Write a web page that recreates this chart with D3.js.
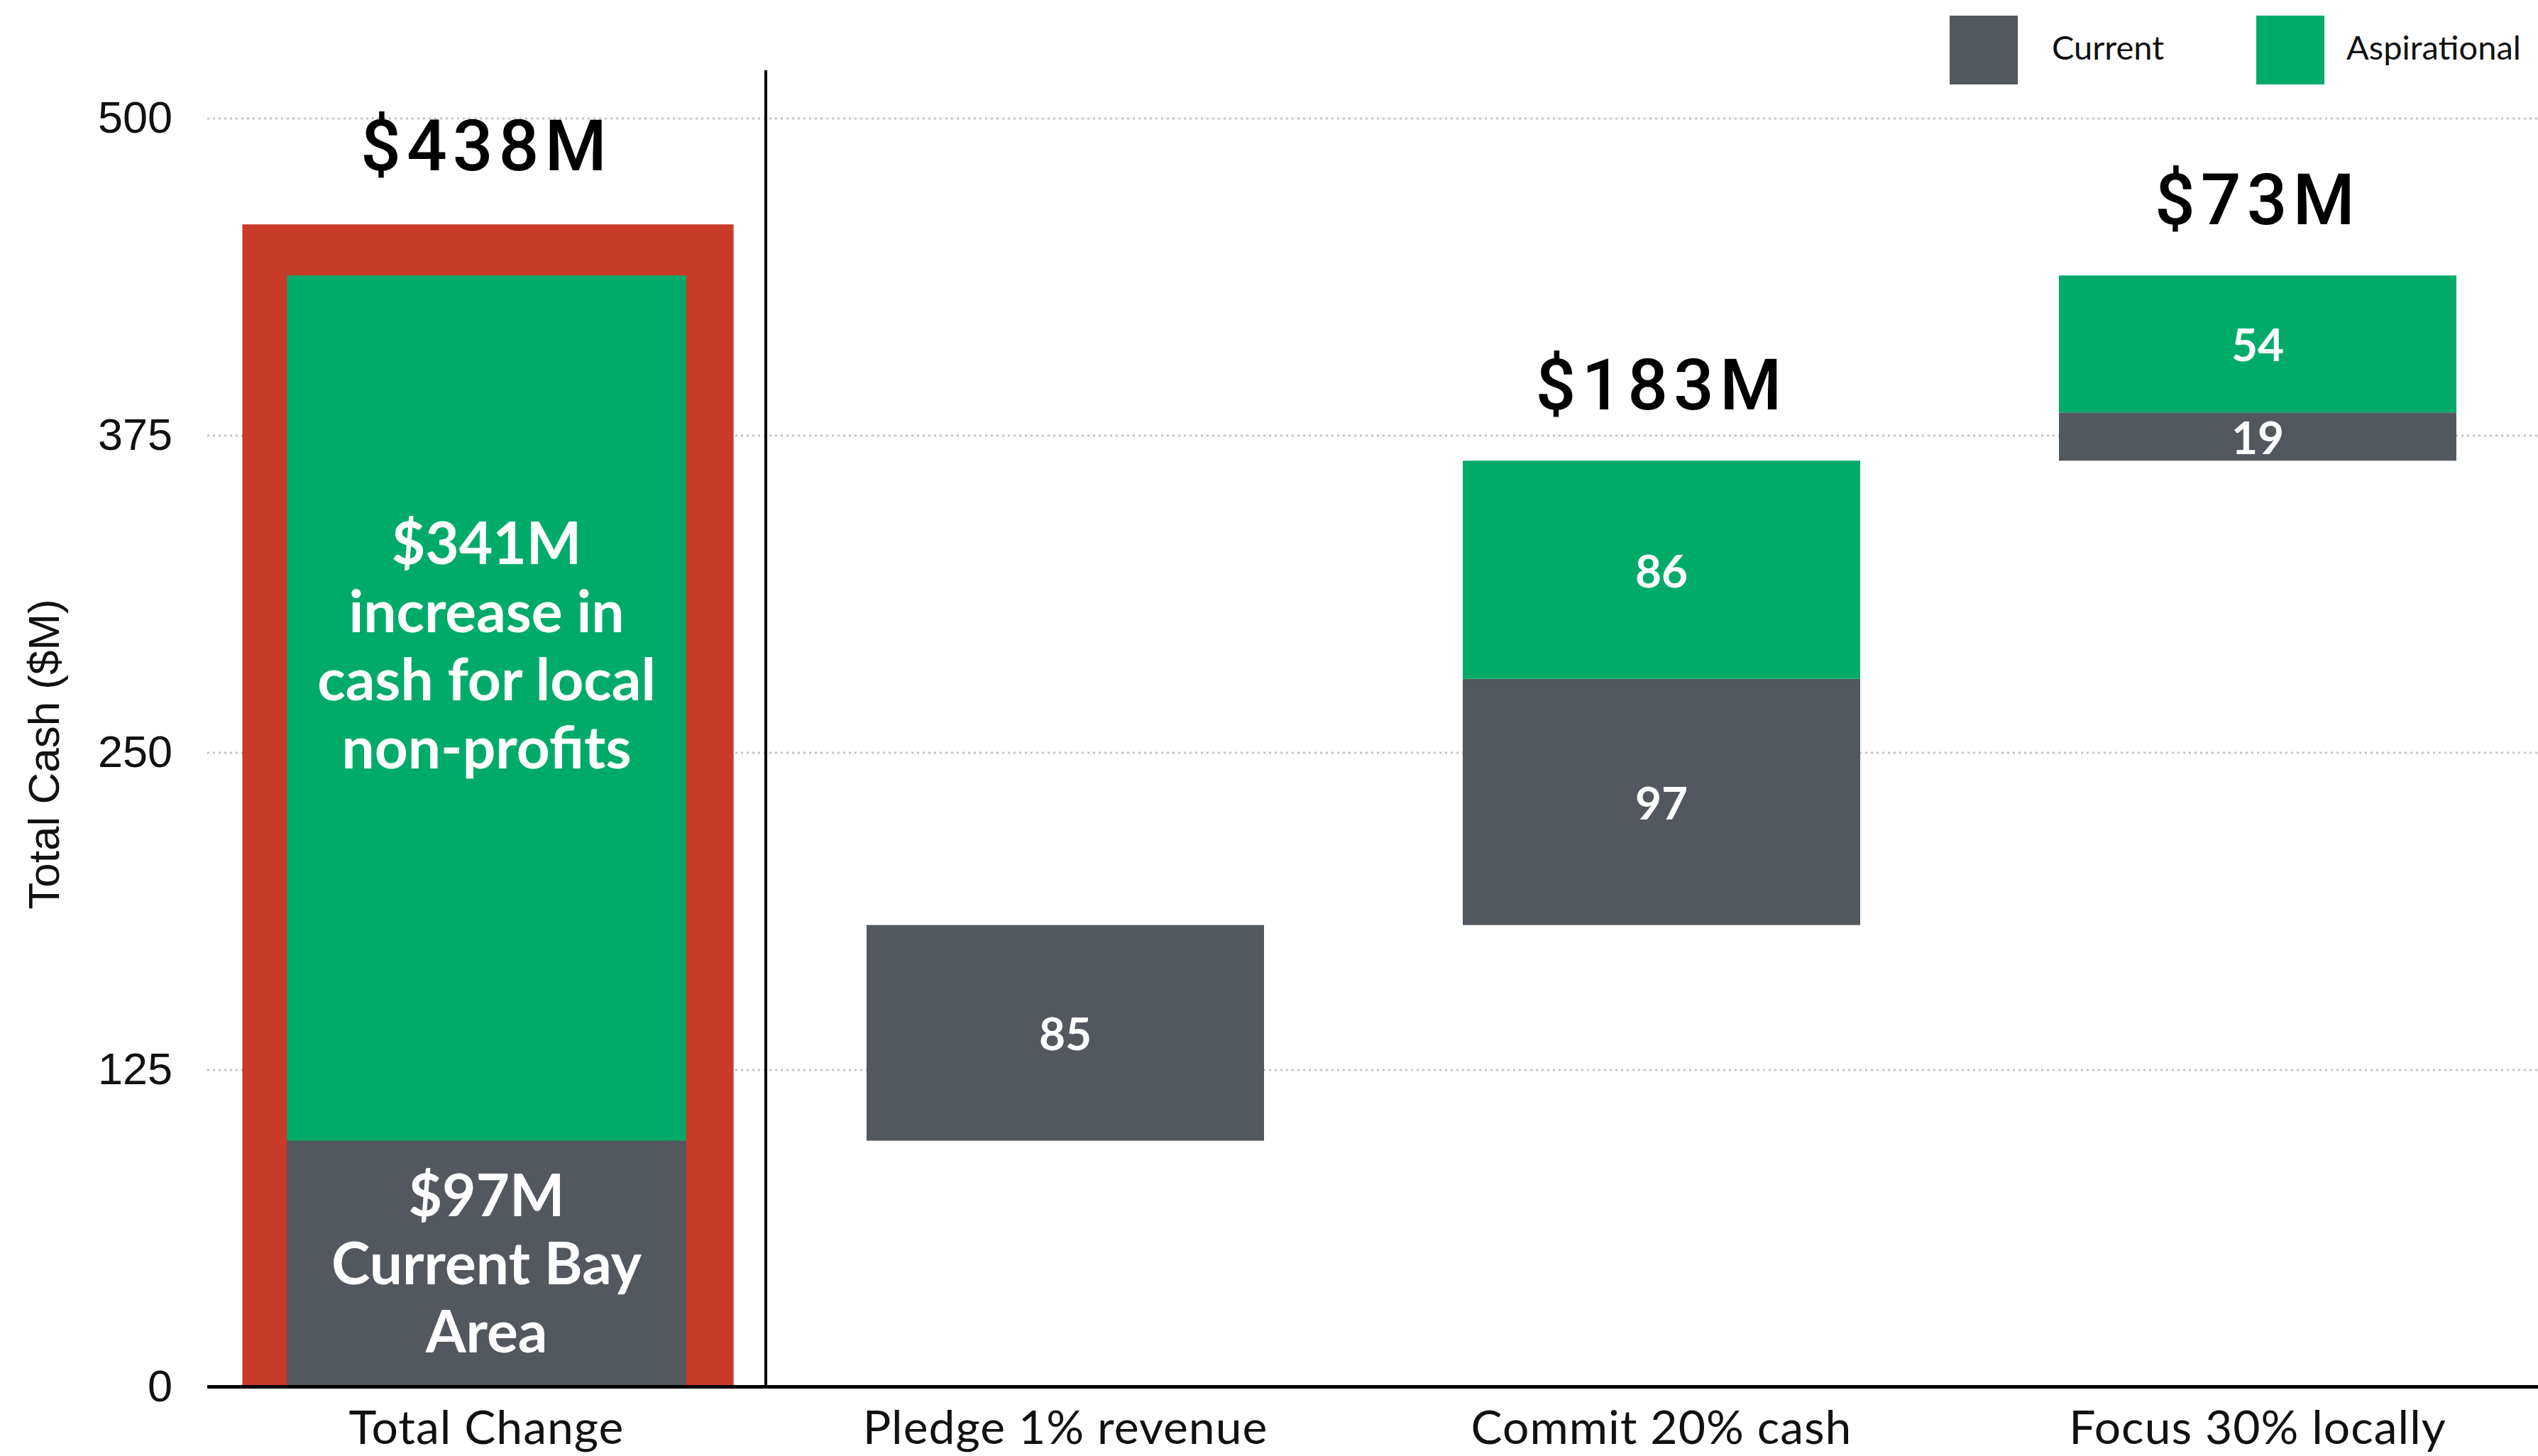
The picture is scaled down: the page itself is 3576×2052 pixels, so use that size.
<!DOCTYPE html>
<html>
<head>
<meta charset="utf-8">
<script src="https://cdn.jsdelivr.net/npm/d3@7"></script>
<style>
  html, body { margin: 0; padding: 0; background: #ffffff; }
  svg { display: block; }
</style>
</head>
<body>
<svg id="chart"></svg>
<script>
// ---- data ($M) ----
const totalCategory = "Total Change";
const totalCurrent = 97;
const totalAspirational = 341;
const totalCurrentText = ["$97M", "Current Bay", "Area"];
const totalAspirationalText = ["$341M", "increase in", "cash for local", "non-profits"];

const stepCategories = ["Pledge 1% revenue", "Commit 20% cash", "Focus 30% locally"];
const stepCurrent = [85, 97, 19];
const stepAspirational = [0, 86, 54];
const stepShowTotal = [false, true, true];

const yTicks = [0, 125, 250, 375, 500];
const seriesNames = ["Current", "Aspirational"];
const seriesColors = ["#53575e", "#00ab6a"];
const highlightColor = "#c83b29";

// ---- layout ----
const W = 3576, H = 2052;
const plotLeft = 292, plotRight = W, plotTop = 166.5, plotBottom = 1954.5;
const dividerX = 1079;

const svg = d3.select("#chart").attr("width", W).attr("height", H);

const y = d3.scaleLinear().domain([0, 500]).range([plotBottom, plotTop]);

const xSteps = d3.scaleBand()
  .domain(stepCategories)
  .range([dividerX + 2, 3601])
  .paddingInner(1 / 3)
  .paddingOuter(1 / 6);

const xTotal = d3.scaleBand()
  .domain([totalCategory])
  .range([plotLeft, dividerX])
  .paddingInner(0)
  .paddingOuter(0.2);

const color = d3.scaleOrdinal().domain(seriesNames).range(seriesColors);

// waterfall: each step begins where the previous one ended
const stepRows = [];
let running = totalCurrent;
stepCategories.forEach((cat, i) => {
  const base = running;
  const cur = stepCurrent[i], asp = stepAspirational[i];
  stepRows.push({ cat, base, cur, asp, total: cur + asp, showTotal: stepShowTotal[i] });
  running = base + cur + asp;
});

// ---- dotted gridlines ----
const grid = svg.append("g")
  .attr("transform", `translate(${plotLeft},0)`)
  .call(d3.axisLeft(y).tickValues(yTicks.filter(v => v > 0))
    .tickSize(-(plotRight - plotLeft)).tickFormat(""));
grid.select(".domain").remove();
grid.selectAll(".tick line")
  .attr("stroke", "#c4c4c4")
  .attr("stroke-width", 3)
  .attr("stroke-dasharray", "3,5");

// ---- y axis labels ----
const yAxis = svg.append("g")
  .attr("transform", `translate(${plotLeft},0)`)
  .call(d3.axisLeft(y).tickValues(yTicks).tickSize(0).tickPadding(49));
yAxis.select(".domain").remove();
yAxis.selectAll(".tick text")
  .attr("font-family", "'Liberation Sans', Arial, sans-serif")
  .attr("font-size", 63)
  .attr("fill", "#111");

svg.append("text")
  .attr("transform", `translate(83,1063) rotate(-90)`)
  .attr("text-anchor", "middle")
  .attr("font-family", "'Liberation Sans', Arial, sans-serif")
  .attr("font-size", 62)
  .attr("fill", "#111")
  .text("Total Cash ($M)");

// ---- total bar with highlight frame ----
const framePadX = 64, framePadTop = 72;
const tx = xTotal(totalCategory), tw = xTotal.bandwidth();
const totalTop = y(totalCurrent + totalAspirational);

svg.append("rect")
  .attr("x", tx - framePadX + 1)
  .attr("y", totalTop - framePadTop)
  .attr("width", tw + 2 * framePadX + 2)
  .attr("height", y(0) - totalTop + framePadTop)
  .attr("fill", highlightColor);

svg.append("rect")
  .attr("x", tx).attr("width", tw)
  .attr("y", y(totalCurrent)).attr("height", y(0) - y(totalCurrent))
  .attr("fill", color("Current"));

svg.append("rect")
  .attr("x", tx).attr("width", tw)
  .attr("y", totalTop).attr("height", y(totalCurrent) - totalTop)
  .attr("fill", color("Aspirational"));

const lineH = 96, bigFont = 82, capHalf = 29;
function blockLabel(lines, midY, lift) {
  const first = midY - (lines.length - 1) * lineH / 2 + capHalf - lift;
  const t = svg.append("text")
    .attr("text-anchor", "middle")
    .attr("font-family", "Lato, 'Open Sans', sans-serif")
    .attr("font-weight", 700)
    .attr("font-size", bigFont)
    .attr("fill", "#ffffff");
  lines.forEach((s, i) => {
    t.append("tspan").attr("x", tx + tw / 2).attr("y", first + i * lineH).text(s);
  });
}
blockLabel(totalAspirationalText, y(totalCurrent + totalAspirational / 2), 88);
blockLabel(totalCurrentText, y(totalCurrent / 2), 0);

const headFont = "Roboto, 'Liberation Sans', sans-serif";
const headStyle = sel => sel
  .attr("text-anchor", "middle")
  .attr("font-family", headFont)
  .attr("font-weight", 500)
  .attr("font-size", 100)
  .attr("letter-spacing", 8)
  .attr("fill", "#000");

svg.append("text")
  .attr("x", tx + tw / 2)
  .attr("y", totalTop - framePadTop - 76)
  .call(headStyle)
  .text("$" + (totalCurrent + totalAspirational) + "M");

// ---- step bars ----
const stepG = svg.append("g").selectAll("g").data(stepRows).join("g");

stepG.append("rect")
  .attr("x", d => xSteps(d.cat)).attr("width", xSteps.bandwidth())
  .attr("y", d => y(d.base + d.cur))
  .attr("height", d => y(d.base) - y(d.base + d.cur))
  .attr("fill", color("Current"));

stepG.filter(d => d.asp > 0).append("rect")
  .attr("x", d => xSteps(d.cat)).attr("width", xSteps.bandwidth())
  .attr("y", d => y(d.base + d.cur + d.asp))
  .attr("height", d => y(d.base + d.cur) - y(d.base + d.cur + d.asp))
  .attr("fill", color("Aspirational"));

const valueStyle = sel => sel
  .attr("text-anchor", "middle")
  .attr("dominant-baseline", "central")
  .attr("font-family", "Lato, 'Open Sans', sans-serif")
  .attr("font-weight", 700)
  .attr("font-size", 64)
  .attr("fill", "#ffffff");

stepG.append("text")
  .attr("x", d => xSteps(d.cat) + xSteps.bandwidth() / 2)
  .attr("y", d => y(d.base + d.cur / 2))
  .call(valueStyle)
  .text(d => d.cur);

stepG.filter(d => d.asp > 0).append("text")
  .attr("x", d => xSteps(d.cat) + xSteps.bandwidth() / 2)
  .attr("y", d => y(d.base + d.cur + d.asp / 2))
  .call(valueStyle)
  .text(d => d.asp);

stepG.filter(d => d.showTotal).append("text")
  .attr("x", d => xSteps(d.cat) + xSteps.bandwidth() / 2)
  .attr("y", d => y(d.base + d.total) - 72)
  .call(headStyle)
  .text(d => "$" + d.total + "M");

// ---- x axis ----
function styleXAxis(g) {
  g.select(".domain").remove();
  g.selectAll(".tick text")
    .attr("font-family", "Lato, 'Open Sans', sans-serif")
    .attr("font-size", 66)
    .attr("letter-spacing", 1)
    .attr("fill", "#111");
}
svg.append("g")
  .attr("transform", `translate(0,${plotBottom})`)
  .call(d3.axisBottom(xTotal).tickSize(0).tickPadding(34))
  .call(styleXAxis);
svg.append("g")
  .attr("transform", `translate(0,${plotBottom})`)
  .call(d3.axisBottom(xSteps).tickSize(0).tickPadding(34))
  .call(styleXAxis);

svg.append("line")
  .attr("x1", plotLeft).attr("x2", plotRight)
  .attr("y1", plotBottom).attr("y2", plotBottom)
  .attr("stroke", "#000").attr("stroke-width", 5);

// divider between total and the steps
svg.append("line")
  .attr("x1", dividerX).attr("x2", dividerX)
  .attr("y1", 99).attr("y2", plotBottom)
  .attr("stroke", "#000").attr("stroke-width", 4);

// ---- legend ----
const legendX = [2747, 3179];
const legendTextGap = [144, 127];
const legend = svg.append("g").selectAll("g").data(seriesNames).join("g")
  .attr("transform", (d, i) => `translate(${legendX[i]},22)`);
legend.append("rect")
  .attr("width", 96).attr("height", 97)
  .attr("fill", d => color(d));
legend.append("text")
  .attr("x", (d, i) => legendTextGap[i]).attr("y", 62)
  .attr("font-family", "Lato, 'Open Sans', sans-serif")
  .attr("font-size", 47)
  .attr("fill", "#111")
  .text(d => d);
</script>
</body>
</html>
